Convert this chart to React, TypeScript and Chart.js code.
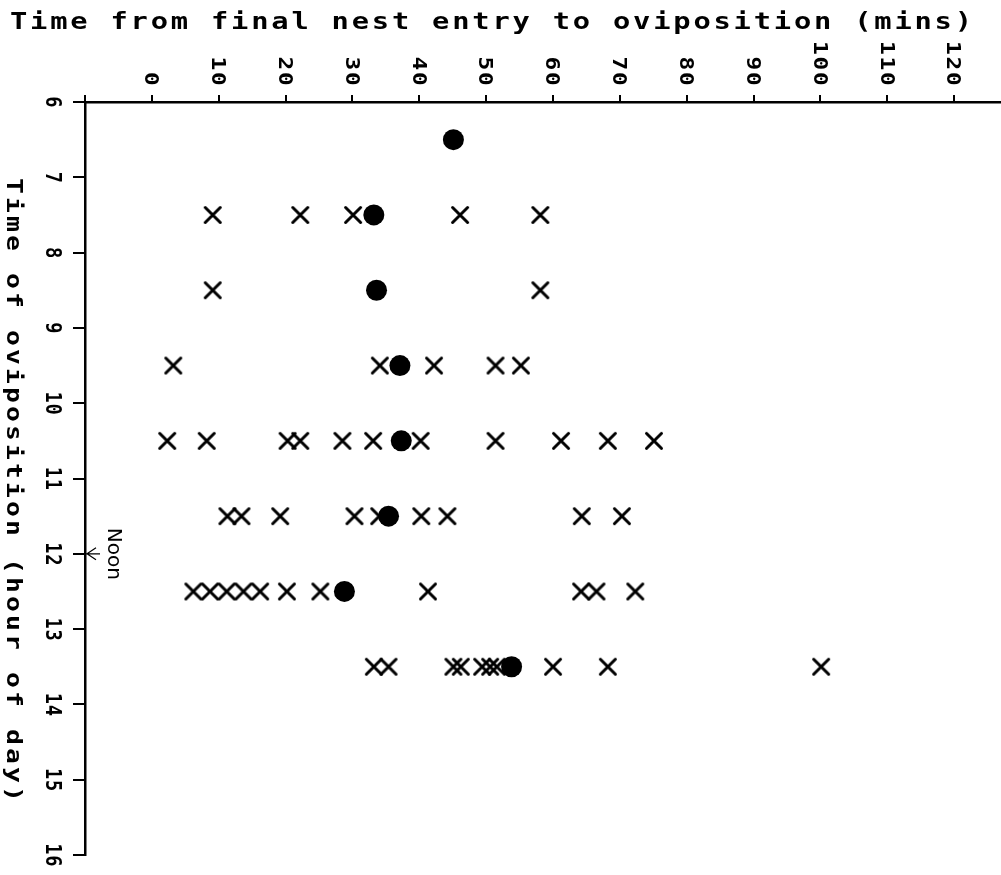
import React, { useEffect, useRef } from "react";
import { Chart, registerables } from "chart.js";

Chart.register(...registerables);

// ---- Text ----
const xTitle = "Time from final nest entry to oviposition (mins)";
const yTitle = "Time of oviposition (hour of day)";
const noonLabel = "Noon";

// ---- Axis ticks ----
const minuteTicks = [0, 10, 20, 30, 40, 50, 60, 70, 80, 90, 100, 110, 120];
const minuteTickMarks = [-10, 0, 10, 20, 30, 40, 50, 60, 70, 80, 90, 100, 110, 120];
const hourTicks = [6, 7, 8, 9, 10, 11, 12, 13, 14, 15, 16];
const minuteRange = [-10, 127];
const hourRange = [6, 16];
const noonHour = 12;

// ---- Data: hour rows (oviposition hour, plotted at half-hour) ----
const rowHours = [6.5, 7.5, 8.5, 9.5, 10.5, 11.5, 12.5, 13.5];
// Mean (filled dots) per row
const meanMinutes = [45.1, 33.2, 33.6, 37.1, 37.3, 35.4, 28.8, 53.8];
// Individual observations (crosses) per row
const minutes0630: number[] = [];
const minutes0730 = [9.1, 22.2, 30.1, 46.1, 58.1];
const minutes0830 = [9.1, 58.1];
const minutes0930 = [3.2, 34.1, 42.2, 51.4, 55.2];
const minutes1030 = [2.3, 8.2, 20.3, 22.2, 28.5, 33.1, 40.2, 51.4, 61.2, 68.2, 75.1];
const minutes1130 = [11.3, 13.4, 19.2, 30.3, 34.0, 40.3, 44.2, 64.3, 70.3];
const minutes1230 = [6.2, 8.7, 11.2, 13.7, 16.2, 20.2, 25.2, 41.3, 64.2, 66.5, 72.3];
const minutes1330 = [33.2, 35.4, 45.1, 46.2, 49.4, 50.6, 51.6, 60.0, 68.2, 100.1];

const crossRows = [
  minutes0630,
  minutes0730,
  minutes0830,
  minutes0930,
  minutes1030,
  minutes1130,
  minutes1230,
  minutes1330,
];

const MONO = '"DejaVu Sans Mono", "Liberation Mono", monospace';

type SpacedOpts = {
  rot: number;
  adv: number;
  align: "left" | "center" | "right";
  font: string;
  sx: number;
};

function drawSpaced(
  ctx: CanvasRenderingContext2D,
  text: string,
  ax: number,
  ay: number,
  o: SpacedOpts
) {
  ctx.save();
  ctx.translate(ax, ay);
  ctx.rotate(o.rot);
  ctx.font = o.font;
  ctx.textAlign = "center";
  ctx.textBaseline = "alphabetic";
  const L = text.length * o.adv;
  const start = o.align === "left" ? 0 : o.align === "center" ? -L / 2 : -L;
  for (let i = 0; i < text.length; i++) {
    const ch = text[i];
    if (ch === " ") continue;
    ctx.save();
    ctx.translate(start + (i + 0.5) * o.adv, 0);
    ctx.scale(o.sx, 1);
    ctx.fillText(ch, 0, 0);
    ctx.restore();
  }
  ctx.restore();
}

function makeCrossImage(): HTMLCanvasElement {
  const c = document.createElement("canvas");
  c.width = 22;
  c.height = 22;
  const g = c.getContext("2d")!;
  g.strokeStyle = "#000";
  g.lineWidth = 3;
  g.lineCap = "round";
  g.beginPath();
  g.moveTo(3.5, 3.5);
  g.lineTo(18.5, 18.5);
  g.moveTo(18.5, 3.5);
  g.lineTo(3.5, 18.5);
  g.stroke();
  return c;
}

const textPlugin = {
  id: "plotterText",
  afterDraw(chart: any) {
    const ctx: CanvasRenderingContext2D = chart.ctx;
    const xs = chart.scales.x;
    const ys = chart.scales.y;
    ctx.save();
    ctx.fillStyle = "#000";
    ctx.strokeStyle = "#000";

    // Top title
    drawSpaced(ctx, xTitle, 491, 29, {
      rot: 0,
      adv: 20.1,
      align: "center",
      font: `bold 23px ${MONO}`,
      sx: 1.25,
    });

    // Left (rotated) title
    drawSpaced(ctx, yTitle, 7, 490, {
      rot: Math.PI / 2,
      adv: 19,
      align: "center",
      font: `bold 22px ${MONO}`,
      sx: 1.2,
    });

    // X tick labels
    for (const v of minuteTicks) {
      const px = xs.getPixelForValue(v);
      drawSpaced(ctx, String(v), px - 6.8, 86.5, {
        rot: Math.PI / 2,
        adv: 15.5,
        align: "right",
        font: `bold 19px ${MONO}`,
        sx: 1.2,
      });
    }

    // Y tick labels
    for (const v of hourTicks) {
      const py = ys.getPixelForValue(v);
      drawSpaced(ctx, String(v), 46, py, {
        rot: Math.PI / 2,
        adv: 12,
        align: "center",
        font: `bold 22px ${MONO}`,
        sx: 0.85,
      });
    }

    // Noon annotation
    const axisX = chart.chartArea.left;
    const ny = ys.getPixelForValue(noonHour);
    ctx.save();
    ctx.translate(108, ny);
    ctx.rotate(Math.PI / 2);
    ctx.font = '20px "DejaVu Sans", sans-serif';
    ctx.textAlign = "center";
    ctx.textBaseline = "alphabetic";
    ctx.fillText(noonLabel, 0, 0);
    ctx.restore();

    ctx.lineWidth = 1.2;
    ctx.beginPath();
    ctx.moveTo(axisX + 1, ny);
    ctx.lineTo(axisX + 15, ny);
    ctx.moveTo(axisX + 11, ny - 6);
    ctx.lineTo(axisX + 2, ny);
    ctx.lineTo(axisX + 11, ny + 6);
    ctx.stroke();

    ctx.restore();
  },
};

export default function App() {
  const canvasRef = useRef<HTMLCanvasElement | null>(null);

  useEffect(() => {
    const canvas = canvasRef.current;
    if (!canvas) return;

    const meanPoints = rowHours.map((h, i) => ({ x: meanMinutes[i], y: h }));
    const crossPoints: { x: number; y: number }[] = [];
    crossRows.forEach((row, i) => {
      row.forEach((m) => crossPoints.push({ x: m, y: rowHours[i] }));
    });

    const crossImg = makeCrossImage();

    const chart = new Chart(canvas, {
      type: "scatter",
      data: {
        datasets: [
          {
            label: "Mean",
            data: meanPoints,
            pointStyle: "circle",
            pointRadius: 10.5,
            pointBackgroundColor: "#000",
            pointBorderColor: "#000",
            pointBorderWidth: 0,
          },
          {
            label: "Observation",
            data: crossPoints,
            pointStyle: crossImg as any,
            pointRadius: 11,
            pointBorderColor: "#000",
            pointBackgroundColor: "#000",
            pointBorderWidth: 0,
          },
        ],
      },
      options: {
        responsive: false,
        animation: false,
        events: [],
        layout: {
          autoPadding: false,
          padding: { left: 73, top: 95, right: 0, bottom: 20 },
        },
        plugins: {
          legend: { display: false },
          tooltip: { enabled: false },
          title: { display: false },
        },
        scales: {
          x: {
            type: "linear",
            position: "top",
            min: minuteRange[0],
            max: minuteRange[1],
            afterBuildTicks: (scale: any) => {
              scale.ticks = minuteTickMarks.map((v) => ({ value: v }));
            },
            ticks: { display: false },
            grid: {
              display: true,
              drawOnChartArea: false,
              drawTicks: true,
              tickLength: 7,
              color: "#000",
              lineWidth: 2,
            },
            border: { display: true, color: "#000", width: 2.5 },
          },
          y: {
            type: "linear",
            reverse: true,
            min: hourRange[0],
            max: hourRange[1],
            afterBuildTicks: (scale: any) => {
              scale.ticks = hourTicks.map((v) => ({ value: v }));
            },
            ticks: { display: false },
            grid: {
              display: true,
              drawOnChartArea: false,
              drawTicks: true,
              tickLength: 12,
              color: "#000",
              lineWidth: 2,
            },
            border: { display: true, color: "#000", width: 2.5 },
          },
        },
      },
      plugins: [textPlugin],
    });

    return () => chart.destroy();
  }, []);

  return (
    <div
      style={{
        position: "absolute",
        left: 0,
        top: 0,
        width: 1001,
        height: 875,
        background: "#fff",
      }}
    >
      <canvas ref={canvasRef} width={1001} height={875} />
    </div>
  );
}
